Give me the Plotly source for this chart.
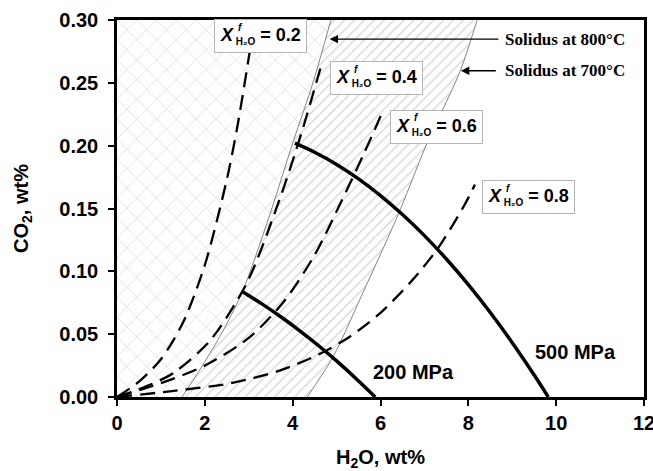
import plotly.graph_objects as go

# ---------------- data ----------------
# solidus curves (H2O wt%, CO2 wt%)
sol800_x = [1.48, 2.0, 2.45, 2.87, 3.45, 4.01, 4.47, 4.87]
sol800_y = [0.0, 0.028, 0.055, 0.085, 0.142, 0.203, 0.251, 0.30]
sol700_x = [4.33, 4.92, 5.6, 6.4, 7.06, 7.81, 8.2]
sol700_y = [0.0, 0.032, 0.083, 0.145, 0.202, 0.259, 0.30]

# fluid-composition isopleths
iso_labels = ["0.2", "0.4", "0.6", "0.8"]
iso02_x = [0, 0.5, 1.0, 1.5, 2.0, 2.5, 2.75, 3.05]
iso02_y = [0, 0.0122, 0.030, 0.059, 0.105, 0.173, 0.217, 0.281]
iso04_x = [0, 0.6, 1.28, 2.12, 2.96, 3.71, 4.2, 4.66]
iso04_y = [0, 0.0075, 0.019, 0.045, 0.091, 0.158, 0.21, 0.265]
iso06_x = [0, 1.0, 2.0, 3.0, 3.8, 4.5, 5.1, 5.6, 6.06]
iso06_y = [0, 0.011, 0.025, 0.047, 0.076, 0.113, 0.155, 0.192, 0.228]
iso08_x = [0, 1.2, 2.6, 3.7, 4.6, 5.3, 6.0, 6.7, 7.3, 7.9, 8.15]
iso08_y = [0, 0.0045, 0.011, 0.021, 0.034, 0.048, 0.067, 0.092, 0.118, 0.152, 0.169]

# isobars
p200_x = [2.85, 3.3, 3.8, 4.2, 4.62, 5.0, 5.5, 5.88]
p200_y = [0.084, 0.0741, 0.0621, 0.0517, 0.040, 0.0287, 0.0128, 0.0]
p500_x = [4.05, 4.5, 5.0, 5.5, 6.0, 6.5, 7.0, 7.5, 8.0, 8.5, 9.0, 9.5, 9.82]
p500_y = [0.202, 0.1948, 0.1851, 0.1736, 0.1603, 0.1452, 0.1284, 0.1098, 0.0894,
          0.0672, 0.0432, 0.0175, 0.0]

# label positions (box centres)
iso_lab_x = [3.27, 5.90, 7.28, 9.37]
iso_lab_y = [0.287, 0.2538, 0.2152, 0.159]

x_ticks = [0, 2, 4, 6, 8, 10, 12]
y_ticks = [0.0, 0.05, 0.10, 0.15, 0.20, 0.25, 0.30]

FONT = "Liberation Sans, Arial, sans-serif"
SERIF = "Liberation Serif, Times New Roman, serif"

fig = go.Figure()

# cross-hatched region: left of 800 C solidus
xh_x = [0, sol800_x[0]] + sol800_x + [0, 0]
xh_y = [0, 0] + sol800_y + [0.30, 0]
fig.add_trace(go.Scatter(
    x=xh_x, y=xh_y, mode="lines", fill="toself",
    line=dict(width=0, color="rgba(0,0,0,0)"),
    fillcolor="rgba(255,255,255,0)",
    fillpattern=dict(shape="x", fgcolor="#c2c2c2", bgcolor="white", size=14, solidity=0.12),
    hoverinfo="skip", showlegend=False))

# diagonal-hatched region between solidi
dh_x = sol800_x + sol700_x[::-1] + [sol800_x[0]]
dh_y = sol800_y + sol700_y[::-1] + [sol800_y[0]]
fig.add_trace(go.Scatter(
    x=dh_x, y=dh_y, mode="lines", fill="toself",
    line=dict(width=0, color="rgba(0,0,0,0)"),
    fillcolor="rgba(255,255,255,0)",
    fillpattern=dict(shape="/", fgcolor="#b0b0b0", bgcolor="white", size=7, solidity=0.2),
    hoverinfo="skip", showlegend=False))

# solidus lines
for sx, sy in [(sol800_x, sol800_y), (sol700_x, sol700_y)]:
    fig.add_trace(go.Scatter(x=sx, y=sy, mode="lines",
                             line=dict(color="#777777", width=0.9, shape="spline", smoothing=0.8),
                             hoverinfo="skip", showlegend=False))

# isopleths
for ix, iy in [(iso02_x, iso02_y), (iso04_x, iso04_y), (iso06_x, iso06_y), (iso08_x, iso08_y)]:
    fig.add_trace(go.Scatter(x=ix, y=iy, mode="lines",
                             line=dict(color="black", width=2.3, dash="15px,8px",
                                       shape="spline", smoothing=0.8),
                             hoverinfo="skip", showlegend=False))

# isobars
for px_, py_ in [(p200_x, p200_y), (p500_x, p500_y)]:
    fig.add_trace(go.Scatter(x=px_, y=py_, mode="lines",
                             line=dict(color="black", width=3.5, shape="spline", smoothing=0.8),
                             hoverinfo="skip", showlegend=False))

annotations = []
for lab, lx, ly in zip(iso_labels, iso_lab_x, iso_lab_y):
    annotations.append(dict(
        x=lx, y=ly, xref="x", yref="y", showarrow=False,
        text="<b><i>X</i></b><span style='font-size:10px'> </span>"
             "<sub><span style='font-size:10px'><b>H₂O</b></span></sub><b> = " + lab + "</b>",
        font=dict(family=FONT, size=18, color="black"),
        bgcolor="white", bordercolor="#b5b5b5", borderwidth=1, borderpad=5))
    annotations.append(dict(
        x=lx, y=ly, xref="x", yref="y", showarrow=False,
        text="<i><b>f</b></i>", xshift=-20, yshift=9,
        font=dict(family=FONT, size=10, color="black")))

annotations += [
    dict(x=6.74, y=0.0199, xref="x", yref="y", showarrow=False, text="<b>200 MPa</b>",
         font=dict(family=FONT, size=20, color="black")),
    dict(x=10.43, y=0.0358, xref="x", yref="y", showarrow=False, text="<b>500 MPa</b>",
         font=dict(family=FONT, size=20, color="black")),
    dict(x=8.79, y=0.2848, xref="x", yref="y", showarrow=False, xanchor="left",
         text="<b>Solidus at 800°C</b>", font=dict(family=SERIF, size=17, color="black")),
    dict(x=8.79, y=0.2596, xref="x", yref="y", showarrow=False, xanchor="left",
         text="<b>Solidus at 700°C</b>", font=dict(family=SERIF, size=17, color="black")),
    dict(x=4.84, y=0.2848, ax=8.72, ay=0.2848, xref="x", yref="y", axref="x", ayref="y",
         text="", showarrow=True, arrowhead=2, arrowsize=1.3, arrowwidth=1.3,
         arrowcolor="black", standoff=0, startstandoff=0),
    dict(x=7.83, y=0.2596, ax=8.66, ay=0.2596, xref="x", yref="y", axref="x", ayref="y",
         text="", showarrow=True, arrowhead=2, arrowsize=1.3, arrowwidth=1.3,
         arrowcolor="black", standoff=0, startstandoff=0),
]

fig.update_layout(
    width=653, height=471,
    margin=dict(l=117, r=9, t=20, b=74),
    paper_bgcolor="white", plot_bgcolor="white",
    showlegend=False,
    annotations=annotations,
    font=dict(family=FONT, color="black"),
)
fig.update_xaxes(
    range=[0, 12], tickvals=x_ticks, ticktext=[str(v) for v in x_ticks], automargin=False,
    ticklabeloverflow="allow",
    showgrid=False, zeroline=False, showline=True, linecolor="black", linewidth=2.5,
    mirror=True, ticks="outside", ticklen=6, tickwidth=1.5, tickcolor="black",
    tickfont=dict(family=FONT, size=20, weight="bold"),
    title=dict(text="H<sub>2</sub>O, wt%", font=dict(family=FONT, size=20, weight="bold"), standoff=20),
)
fig.update_yaxes(
    range=[0, 0.30], tickvals=y_ticks, ticktext=[f"{v:.2f}" for v in y_ticks], automargin=False,
    ticklabeloverflow="allow",
    showgrid=False, zeroline=False, showline=True, linecolor="black", linewidth=2.5,
    mirror=True, ticks="outside", ticklen=6, tickwidth=1.5, tickcolor="black",
    tickfont=dict(family=FONT, size=20, weight="bold"), ticklabelstandoff=6,
    title=dict(text="CO<sub>2</sub>, wt%", font=dict(family=FONT, size=20, weight="bold"), standoff=26),
)

fig.write_html("out.html")
